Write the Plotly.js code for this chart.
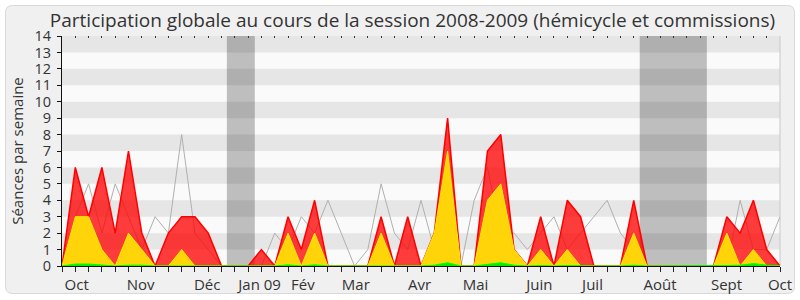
<!DOCTYPE html>
<html>
<head>
<meta charset="utf-8">
<script src="https://cdn.plot.ly/plotly-3.0.1.min.js"></script>
<style>html,body{margin:0;padding:0;background:#fff;}#chart{width:800px;height:300px;}</style>
</head>
<body>
<div id="chart"></div>
<script>
// ---- data ----
const weeks = [0,1,2,3,4,5,6,7,8,9,10,11,12,13,14,15,16,17,18,19,20,21,22,23,24,25,26,27,28,29,30,31,32,33,34,35,36,37,38,39,40,41,42,43,44,45,46,47,48,49,50,51,52,53,54];
const presences = [0,6,3,6,2,7,2,0,2,3,3,2,0,0,0,1,0,3,1,4,0,0,0,0,3,0,3,0,2,9,0,0,7,8,1,0,3,0,4,3,0,0,0,4,0,0,0,0,0,0,3,2,4,1,0];
const participations = [0,3,3,1,0,2,1,0,0,1,0,0,0,0,0,0,0,2,0,2,0,0,0,0,2,0,0,0,2,7,0,0,4,5,1,0,1,0,1,0,0,0,0,2,0,0,0,0,0,0,2,0,1,0,0];
const questions = [0,0.12,0.12,0.05,0,0.05,0.05,0,0,0.03,0,0,0,0,0,0,0,0.07,0,0.07,0,0,0,0,0.03,0,0,0,0.05,0.2,0,0,0.1,0.2,0.05,0,0.03,0,0.03,0,0,0,0,0.05,0,0,0,0,0,0,0.03,0.05,0.15,0.05,0];
const mediane = [0,3,5,2,5,3,1,3,2,8,2,1,0,0,0,0,2,1,3,2,4,2,0,1,5,2,1,4,1,0,0,4,6,2,2,1,2,3,1,2,3,4,2,1,0,0,0,0,0,0,0,4,1,1,3];
const rapportWeek = [1];
const rapportVal = [0.85];
const monthLabels = ['Oct','Nov','Déc','Jan 09','Fév','Mar','Avr','Mai','Juin','Juil','Août','Sept','Oct'];
const monthPos = [1.1,5.92,10.92,14.86,18.12,22.1,26.9,31.1,35.9,39.9,44.98,49.98,54];
const vacStart = [12.4,43.45];
const vacEnd = [14.5,48.5];
const yTicks = [0,1,2,3,4,5,6,7,8,9,10,11,12,13,14];

// ---- layout geometry ----
const W = 800, H = 300;
const mL = 62, mR = 20, mT = 36, mB = 34;
const pw = W - mL - mR, ph = H - mT - mB;
const px2x = p => (p - mL) / pw;
const py2y = p => (H - mB - p) / ph;
const FONT = 'Open Sans, DejaVu Sans, sans-serif';

const shapes = [];
// rounded panel
(function(){
  const x0 = px2x(5.5), x1 = px2x(794.5), y0 = py2y(293.5), y1 = py2y(5.5);
  const rx = 7 / pw, ry = 7 / ph;
  const path = `M ${x0+rx} ${y1} L ${x1-rx} ${y1} Q ${x1} ${y1} ${x1} ${y1-ry} L ${x1} ${y0+ry} Q ${x1} ${y0} ${x1-rx} ${y0} L ${x0+rx} ${y0} Q ${x0} ${y0} ${x0} ${y0+ry} L ${x0} ${y1-ry} Q ${x0} ${y1} ${x0+rx} ${y1} Z`;
  shapes.push({type:'path', xref:'paper', yref:'paper', path, fillcolor:'#f0f0f0', line:{color:'#d9d9d9', width:1}, layer:'below'});
})();
// plot background
shapes.push({type:'rect', xref:'paper', yref:'paper', x0:0, x1:1, y0:0, y1:1, fillcolor:'#fafafa', line:{width:0}, layer:'below'});
// horizontal stripes
yTicks.forEach(v => {
  if (v % 2 === 1) shapes.push({type:'rect', xref:'paper', yref:'y', x0:0, x1:1, y0:v, y1:v+1, fillcolor:'#e6e6e6', line:{width:0}, layer:'below'});
});
// vacation bands
vacStart.forEach((s,i) => {
  shapes.push({type:'rect', xref:'x', yref:'paper', x0:s, x1:vacEnd[i], y0:0, y1:1, fillcolor:'rgba(0,0,0,0.24)', line:{width:0}, layer:'below'});
});
// right border
shapes.push({type:'line', xref:'paper', yref:'paper', x0:1, x1:1, y0:0, y1:1, line:{color:'#c8c8c8', width:1}, layer:'below'});

const traces = [
  {x: weeks, y: mediane, type:'scatter', mode:'lines', line:{color:'#b0b0b0', width:1}, hoverinfo:'skip', showlegend:false},
  {x: weeks, y: presences, type:'scatter', mode:'lines', fill:'tozeroy', fillcolor:'rgba(255,0,0,0.76)', line:{color:'#ff0000', width:1.5}, showlegend:false},
  {x: weeks, y: participations, type:'scatter', mode:'lines', fill:'tozeroy', fillcolor:'#ffd50a', line:{color:'#ffec00', width:1}, showlegend:false},
  {x: weeks, y: questions, type:'scatter', mode:'lines', fill:'tozeroy', fillcolor:'#00ee00', line:{color:'#00ff00', width:1}, showlegend:false},
  {x: rapportWeek, y: rapportVal, type:'bar', width:0.3, offset:-0.27, marker:{color:'#1a1ae6', line:{width:0}}, showlegend:false},
  {x: [0], y: [null], xaxis:'x2', type:'scatter', mode:'lines', showlegend:false, hoverinfo:'skip'}
];

const layout = {
  width: W, height: H,
  margin: {l:mL, r:mR, t:mT, b:mB, pad:0},
  paper_bgcolor: '#ffffff',
  plot_bgcolor: '#fafafa',
  font: {family: FONT, color:'#333', size:14},
  showlegend: false,
  bargap: 0,
  title: {text:'Participation globale au cours de la session 2008-2009 (hémicycle et commissions)',
          font:{family:FONT, size:19, color:'#333'}, x:412.5/W, xref:'container', xanchor:'center',
          y:1-20/H, yref:'container', yanchor:'middle'},
  xaxis: {range:[0,54], fixedrange:true, showgrid:false, zeroline:false,
          showline:true, linecolor:'#111', linewidth:1,
          tickmode:'array', tickvals: monthPos, ticktext: monthLabels,
          ticks:'outside', ticklen:5, tickcolor:'rgba(0,0,0,0)',
          tickfont:{family:FONT, size:15, color:'#333'},
          minor:{tickmode:'array', tickvals: weeks, ticks:'outside', ticklen:5, tickcolor:'#222', tickwidth:1, showgrid:false}},
  xaxis2: {range:[0,54], overlaying:'x', side:'top', anchor:'y', showgrid:false, zeroline:false, showline:false,
           tickmode:'array', tickvals: weeks, ticks:'inside', ticklen:2, tickcolor:'#333', showticklabels:false},
  yaxis: {range:[0,14], fixedrange:true, showgrid:false, zeroline:false,
          showline:true, linecolor:'#111', linewidth:1,
          tickmode:'array', tickvals: yTicks, ticks:'outside', ticklen:4, tickcolor:'#111',
          ticklabelstandoff:3,
          tickfont:{family:FONT, size:14.5, color:'#333'},
          title:{text:'Séances par semaine', font:{family:FONT, size:15, color:'#333'}, standoff:7}},
  shapes: shapes
};

Plotly.newPlot('chart', traces, layout, {staticPlot:true, displayModeBar:false});
</script>
</body>
</html>
